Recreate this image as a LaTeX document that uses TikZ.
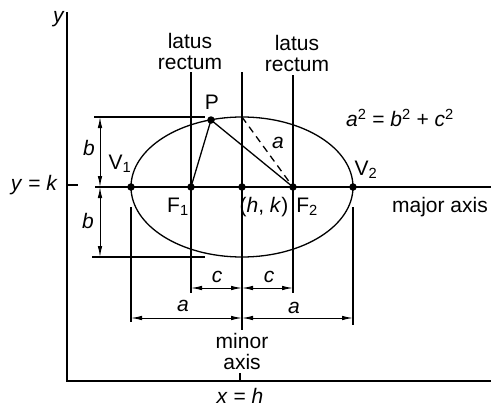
\documentclass[tikz,border=0pt]{standalone}
\usepackage{fontspec}
\setmainfont{Liberation Sans}
\usetikzlibrary{arrows.meta, positioning, calc}

\begin{document}
\begin{tikzpicture}[x=1pt, y=-1pt,
    line/.style={line width=1.3pt},
    dot/.style={circle, fill=black, inner sep=0pt, minimum size=7.5pt},
    dim/.style={line width=1pt,
                {Latex[length=11pt,width=4.5pt]}-{Latex[length=11pt,width=4.5pt]}},
    lbl/.style={font=\fontsize{21}{21}\selectfont, inner sep=1pt, align=center},
  ]
    \useasboundingbox (0,0) rectangle (491,407);

    \coordinate (orig) at (67,381);
    \coordinate (ytop) at (67,12);
    \coordinate (xend) at (491,381);
    \draw[line] (ytop) -- (orig) -- (xend);
    \draw[line] (67,185) -- (78,185);
    \draw[line] (240,381) -- (240,373);
    \node[lbl] (ylab) at (59,19) {\textit{y}};
    \node[lbl, anchor=east] (ykab) at (59,185) {\textit{y} = \textit{k}};
    \node[lbl] (xhab) at (240,396) {\textit{x} = \textit{h}};

    \node[dot] (C) at (242,187) {};
    \node[dot] (V1) at (131,187) {};
    \node[dot] (V2) at (353,187) {};
    \node[dot] (F1) at (191,187) {};
    \node[dot] (F2) at (293,187) {};
    \node[dot] (P) at (211,120) {};
    \coordinate (T) at (242,117);

    \draw[line] (95,187) -- (491,187);
    \draw[line] (C.center) ellipse [x radius=111pt, y radius=70pt];

    \draw[line] (191,72) -- (191,293);
    \draw[line] (242,72) -- (242,330);
    \draw[line] (293,75) -- (293,293);
    \draw[line] (131,207) -- (131,322);
    \draw[line] (353,207) -- (353,325);
    \draw[line] (94,117) -- (205,117);
    \draw[line] (92,257) -- (205,257);

    \draw[line] (F1.center) -- (P.center) -- (F2.center);
    \draw[line, dash pattern=on 7pt off 5pt] (T) -- (F2.center);

    \draw[dim] (100,117) -- (100,187);
    \draw[dim] (100,187) -- (100,257);
    \draw[dim] (191,288) -- (242,288);
    \draw[dim] (242,288) -- (293,288);
    \draw[dim] (131,318) -- (242,318);
    \draw[dim] (242,318) -- (353,318);

    \node[lbl] (bup) at (89,148) {\textit{b}};
    \node[lbl] (blo) at (88,221) {\textit{b}};
    \node[lbl] (cl) at (217,277) {\textit{c}};
    \node[lbl] (cr) at (269,277) {\textit{c}};
    \node[lbl] (al) at (183,306) {\textit{a}};
    \node[lbl] (ar) at (294,308) {\textit{a}};
    \node[lbl] (ad) at (278,143) {\textit{a}};

    \node[lbl] (lrl) at (190,51) {latus\\rectum};
    \node[lbl] (lrr) at (297,53) {latus\\rectum};
    \node[lbl] (minor) at (242,351) {minor\\axis};
    \node[lbl] (major) at (440,207) {major axis};
    \node[lbl] (eq) at (400,118)
      {\textit{a}\textsuperscript{2} = \textit{b}\textsuperscript{2} + \textit{c}\textsuperscript{2}};

    \node[lbl] (Plab) at (212,102) {P};
    \node[lbl] (V1lab) at (120,164) {V\textsubscript{1}};
    \node[lbl] (V2lab) at (366,170) {V\textsubscript{2}};
    \node[lbl] (F1lab) at (178,207) {F\textsubscript{1}};
    \node[lbl] (F2lab) at (307,207) {F\textsubscript{2}};
    \node[lbl] (hk) at (264,207) {(\textit{h}, \textit{k})};
  \end{tikzpicture}
\end{document}
